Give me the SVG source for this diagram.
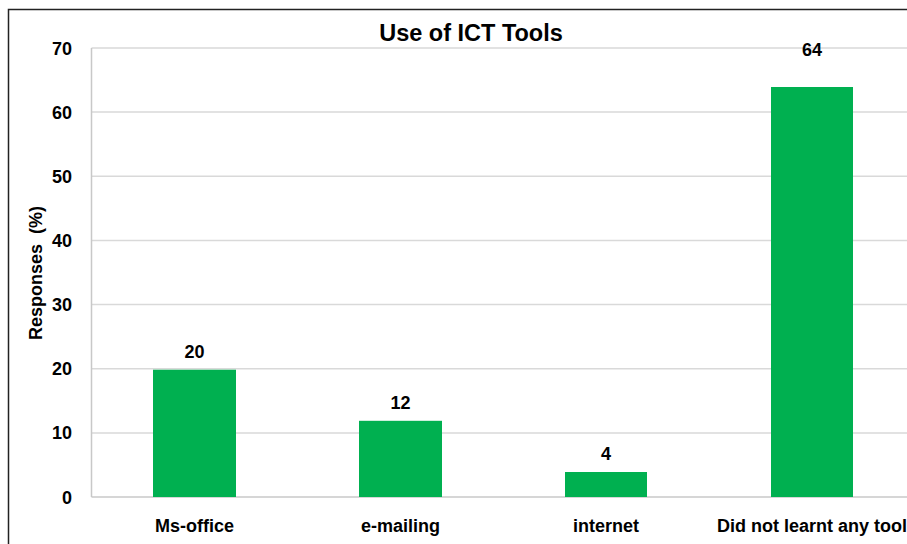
<svg xmlns="http://www.w3.org/2000/svg" width="907" height="544" viewBox="0 0 907 544">
<style>
.t{font-family:"Liberation Sans",Arial,sans-serif;font-weight:bold;fill:#000}
.tick{font-size:18px;text-anchor:end}
.cat{font-size:18px;text-anchor:middle}
.val{font-size:18px;text-anchor:middle}
.grid{stroke:#D9D9D9;stroke-width:1.5}
.bar{fill:#00B050}
</style>
<rect width="907" height="544" fill="#fff"/>
<path d="M8.5 544V9.5H907" fill="none" stroke="#222" stroke-width="1.5"/>
<text class="t" x="471" y="41" font-size="23.5" text-anchor="middle">Use of ICT Tools</text>
<g id="gridlines">
<line class="grid" x1="91.5" y1="48" x2="907" y2="48"/>
<line class="grid" x1="91.5" y1="112.1" x2="907" y2="112.1"/>
<line class="grid" x1="91.5" y1="176.3" x2="907" y2="176.3"/>
<line class="grid" x1="91.5" y1="240.4" x2="907" y2="240.4"/>
<line class="grid" x1="91.5" y1="304.6" x2="907" y2="304.6"/>
<line class="grid" x1="91.5" y1="368.7" x2="907" y2="368.7"/>
<line class="grid" x1="91.5" y1="432.9" x2="907" y2="432.9"/>
<line x1="91.5" y1="497" x2="907" y2="497" stroke="#C8C8C8" stroke-width="1.5"/>
<line x1="91.5" y1="48" x2="91.5" y2="497" stroke="#C8C8C8" stroke-width="1.5"/>
</g>
<g id="ticks">
<text class="t tick" x="72" y="54.5">70</text>
<text class="t tick" x="72" y="118.6">60</text>
<text class="t tick" x="72" y="182.8">50</text>
<text class="t tick" x="72" y="246.9">40</text>
<text class="t tick" x="72" y="311.1">30</text>
<text class="t tick" x="72" y="375.2">20</text>
<text class="t tick" x="72" y="439.4">10</text>
<text class="t tick" x="72" y="503.5">0</text>
</g>
<text class="t" transform="translate(42,273) rotate(-90)" font-size="18" text-anchor="middle" xml:space="preserve">Responses  (%)</text>
<g id="bar-msoffice">
<rect class="bar" x="153" y="369.7" width="83" height="127.3"/>
<text class="t val" x="194.5" y="358">20</text>
<text class="t cat" x="194.5" y="532">Ms-office</text>
</g>
<g id="bar-emailing">
<rect class="bar" x="359" y="420.8" width="83" height="76.2"/>
<text class="t val" x="400.5" y="409">12</text>
<text class="t cat" x="400.5" y="532">e-mailing</text>
</g>
<g id="bar-internet">
<rect class="bar" x="565" y="472" width="82" height="25"/>
<text class="t val" x="606" y="460">4</text>
<text class="t cat" x="606" y="532">internet</text>
</g>
<g id="bar-none">
<rect class="bar" x="771" y="87" width="82" height="410"/>
<text class="t val" x="812" y="56">64</text>
<text class="t cat" x="812" y="532">Did not learnt any tool</text>
</g>
</svg>
